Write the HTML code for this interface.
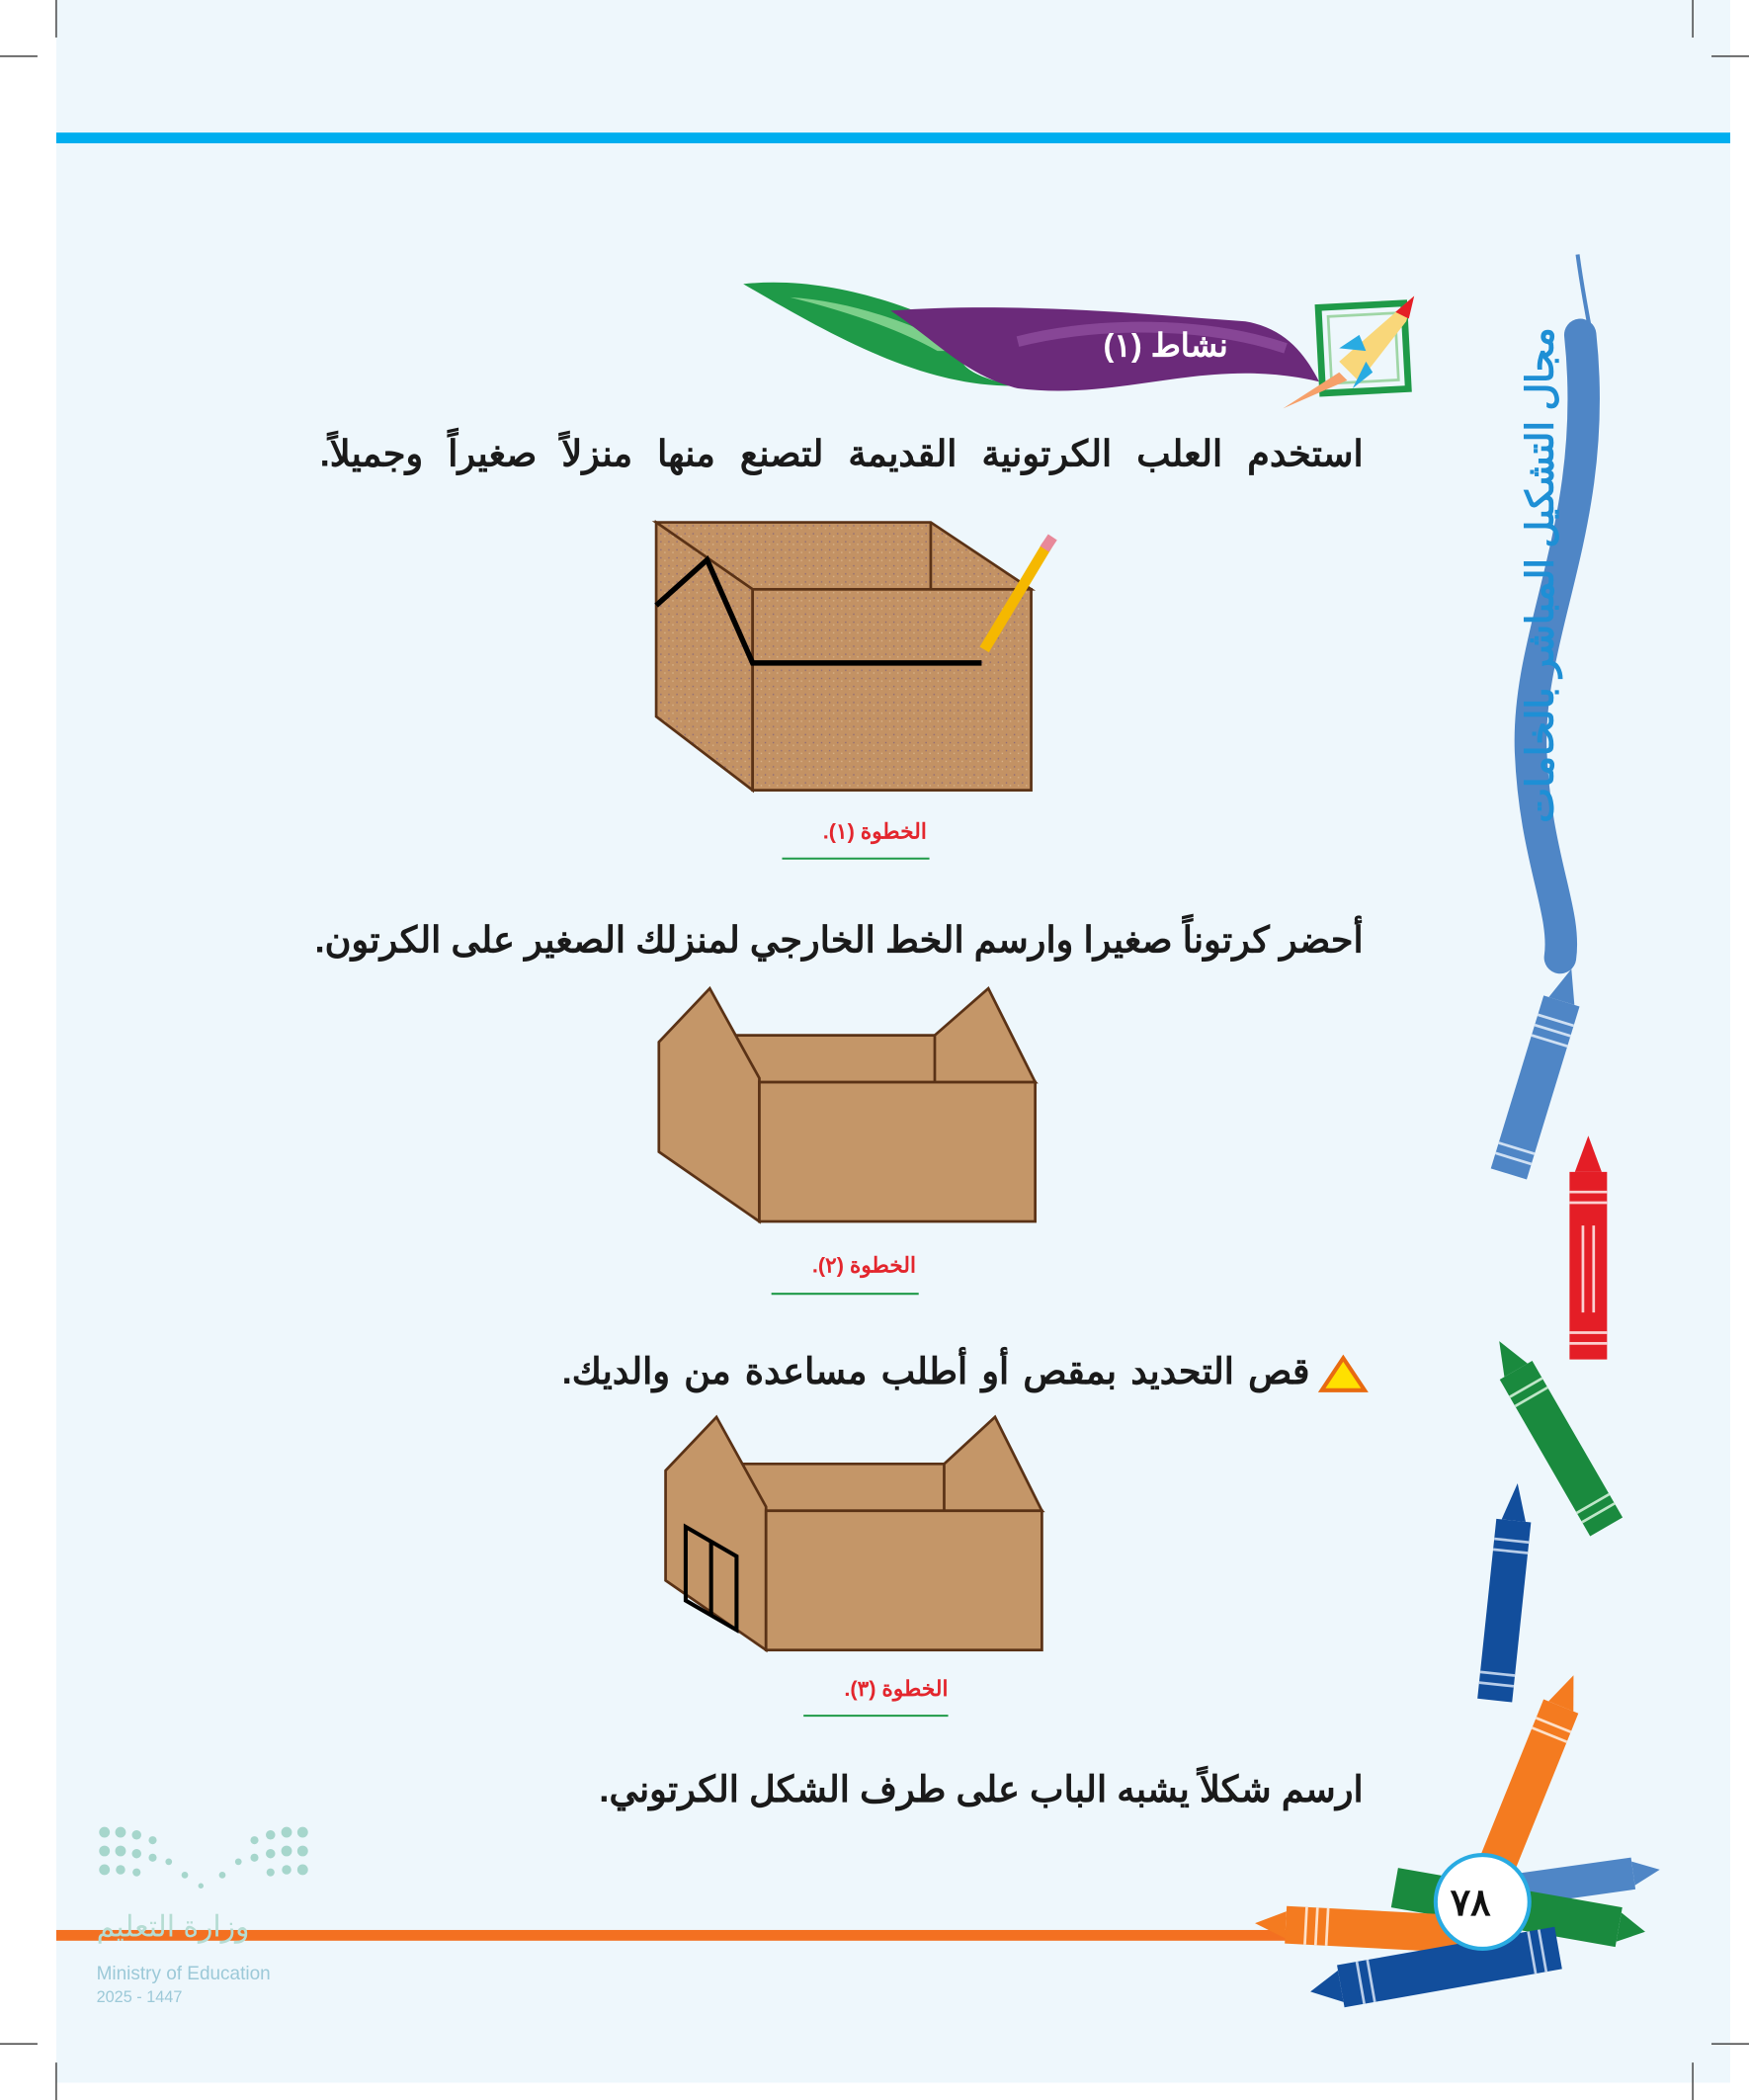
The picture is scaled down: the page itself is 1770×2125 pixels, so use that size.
<!DOCTYPE html>
<html><head><meta charset="utf-8"><style>
html,body{margin:0;padding:0;background:#fff;}
#wrap{position:relative;width:1306px;height:1568px;transform:scale(1.35528);transform-origin:0 0;overflow:hidden;}
svg{position:absolute;left:0;top:0;}
.t{position:absolute;direction:rtl;white-space:nowrap;font-family:"Liberation Sans","Noto Sans CJK SC",sans-serif;font-weight:bold;color:#1a1a1a;}
.cap{position:absolute;direction:rtl;white-space:nowrap;font-family:"Liberation Sans","Noto Sans CJK SC",sans-serif;font-weight:bold;color:#e3262d;font-size:16px;}
</style></head><body><div id="wrap">
<svg width="1306" height="1568" viewBox="0 0 1306 1568">
<rect x="42" y="0" width="1250" height="1555" fill="#eef7fc"/>
<g stroke="#333" stroke-width="1">
<line x1="42" y1="0" x2="42" y2="28"/><line x1="0" y1="42" x2="28" y2="42"/>
<line x1="1264" y1="0" x2="1264" y2="28"/><line x1="1278" y1="42" x2="1306" y2="42"/>
<line x1="42" y1="1540" x2="42" y2="1568"/><line x1="0" y1="1526" x2="28" y2="1526"/>
<line x1="1264" y1="1540" x2="1264" y2="1568"/><line x1="1278" y1="1526" x2="1306" y2="1526"/>
</g>
<rect x="42" y="99" width="1250" height="8" fill="#00aeef"/>
<rect x="42" y="1441" width="1000" height="8" fill="#f37021"/>
<path d="M555,212 C620,205 690,230 740,260 C700,262 720,282 760,288 C690,290 620,250 555,212Z" fill="#1f9a48"/>
<path d="M590,222 C640,225 690,245 720,262 L700,262 C670,245 630,232 590,222Z" fill="#7ccf8a"/>
<path d="M665,232 C760,225 860,235 930,240 C960,245 975,265 985,285 C900,265 840,300 760,290 C720,280 700,255 665,232Z" fill="#6b2a7a"/>
<path d="M760,255 C820,240 900,240 960,260" stroke="#9a5aa8" stroke-width="8" fill="none" opacity=".6"/>
<rect x="986" y="228" width="64" height="64" fill="none" stroke="#1f9a48" stroke-width="5" transform="rotate(-3 1018 260)"/>
<rect x="993" y="235" width="50" height="50" fill="none" stroke="#9fd6a6" stroke-width="2" transform="rotate(-3 1018 260)"/>
<path d="M1000,270 L1040,235 L1056,221 L1050,240 L1015,285Z" fill="#f9d77a"/>
<path d="M1042,233 L1056,221 L1052,238Z" fill="#e41e26"/>
<path d="M1000,260 L1015,250 L1020,262Z M1010,290 L1025,278 L1020,270Z" fill="#29abe2"/>
<path d="M958,305 L1000,278 L1006,284Z" fill="#f6a06a"/>
<path d="M1180,250 C1195,390 1140,470 1143,560 C1146,640 1170,680 1165,715" stroke="#4f86c6" stroke-width="24" fill="none" stroke-linecap="round"/>
<path d="M1178,190 C1182,220 1188,250 1192,270" stroke="#4f86c6" stroke-width="3" fill="none"/>
<defs><pattern id="sp" width="6" height="6" patternUnits="userSpaceOnUse"><rect width="6" height="6" fill="#c39264"/><rect x="1" y="2" width="1" height="1" fill="#8a6a7a"/><rect x="4" y="4" width="1" height="1" fill="#d9b58c"/></pattern></defs>
<g stroke="#5a3216" stroke-width="2" fill="url(#sp)">
<polygon points="490,390 695,390 770,440 562,440"/>
<polygon points="490,390 562,440 562,590 490,535"/>
<rect x="562" y="440" width="208" height="150"/>
<line x1="695" y1="390" x2="695" y2="440"/>
</g>
<polyline points="490,452 528,418 562,495 733,495" stroke="#000" stroke-width="4" fill="none"/>
<line x1="735" y1="485" x2="782" y2="407" stroke="#f5b800" stroke-width="8"/>
<line x1="780" y1="410" x2="786" y2="401" stroke="#e8899a" stroke-width="8"/>
<g stroke="#5a3216" stroke-width="2" fill="#c49668">
<polygon points="530,773 738,773 773,808 567,808"/>
<polygon points="492,778 530,738 567,805 567,912 492,860"/>
<polygon points="698,773 738,738 773,808 698,808"/>
<rect x="567" y="808" width="206" height="104"/>
</g>
<g stroke="#5a3216" stroke-width="2" fill="#c49668">
<polygon points="535,1093 743,1093 778,1128 572,1128"/>
<polygon points="497,1098 535,1058 572,1125 572,1232 497,1180"/>
<polygon points="705,1093 743,1058 778,1128 705,1128"/>
<rect x="572" y="1128" width="206" height="104"/>
</g>
<g stroke="#000" stroke-width="3" fill="none"><polygon points="512,1140 550,1162 550,1217 512,1195"/><line x1="531" y1="1151" x2="531" y2="1206"/></g>
<g stroke="#1f9a48" stroke-width="1.5"><line x1="584" y1="641" x2="694" y2="641"/><line x1="576" y1="966" x2="686" y2="966"/><line x1="600" y1="1281" x2="708" y2="1281"/></g>
<polygon points="1003,1014 1019,1038 987,1038" fill="#ffe000" stroke="#e86a10" stroke-width="3"/>
<g>
<g transform="translate(1150,800) rotate(17)"><rect x="-14" y="-55" width="28" height="135" fill="#4f86c6"/><polygon points="-10,-55 0,-80 10,-55" fill="#4f86c6"/><g stroke="#cfe0f3" stroke-width="2"><line x1="-14" y1="-40" x2="14" y2="-40"/><line x1="-14" y1="-32" x2="14" y2="-32"/><line x1="-14" y1="-24" x2="14" y2="-24"/><line x1="-14" y1="60" x2="14" y2="60"/><line x1="-14" y1="68" x2="14" y2="68"/></g></g>
<g transform="translate(1186,940)"><rect x="-14" y="-65" width="28" height="140" fill="#e41e26"/><polygon points="-10,-65 0,-92 10,-65" fill="#e41e26"/><g stroke="#fbd0d0" stroke-width="2"><line x1="-14" y1="-50" x2="14" y2="-50"/><line x1="-14" y1="-42" x2="14" y2="-42"/><line x1="-4" y1="-25" x2="-4" y2="40"/><line x1="4" y1="-25" x2="4" y2="40"/><line x1="-14" y1="55" x2="14" y2="55"/><line x1="-14" y1="63" x2="14" y2="63"/></g></g>
<g transform="translate(1162,1075) rotate(-30)"><rect x="-14" y="-60" width="28" height="135" fill="#1a8a3e"/><polygon points="-10,-60 0,-85 10,-60" fill="#1a8a3e"/><g stroke="#bfe6c8" stroke-width="2"><line x1="-14" y1="-45" x2="14" y2="-45"/><line x1="-14" y1="-37" x2="14" y2="-37"/><line x1="-14" y1="55" x2="14" y2="55"/><line x1="-14" y1="63" x2="14" y2="63"/></g></g>
<g transform="translate(1124,1195) rotate(6)"><rect x="-13" y="-60" width="26" height="135" fill="#124e9c"/><polygon points="-9,-60 0,-88 9,-60" fill="#124e9c"/><g stroke="#b8cde9" stroke-width="2"><line x1="-13" y1="-45" x2="13" y2="-45"/><line x1="-13" y1="-37" x2="13" y2="-37"/><line x1="-13" y1="55" x2="13" y2="55"/><line x1="-13" y1="63" x2="13" y2="63"/></g></g>
<g transform="translate(1145,1325) rotate(22)"><rect x="-14" y="-55" width="28" height="130" fill="#f47b20"/><polygon points="-10,-55 0,-80 10,-55" fill="#f47b20"/><g stroke="#fde0c8" stroke-width="2"><line x1="-14" y1="-40" x2="14" y2="-40"/><line x1="-14" y1="-32" x2="14" y2="-32"/></g></g>
<g transform="translate(1175,1405) rotate(-8)"><rect x="-50" y="-12" width="95" height="24" fill="#4f86c6"/><polygon points="45,-9 65,0 45,9" fill="#4f86c6"/></g>
<g transform="translate(1130,1425) rotate(10)"><rect x="-90" y="-15" width="170" height="30" fill="#1a8a3e"/><polygon points="80,-11 100,0 80,11" fill="#1a8a3e"/></g>
<g transform="translate(1015,1440) rotate(3)"><rect x="-55" y="-14" width="130" height="28" fill="#f47b20"/><polygon points="-55,-10 -78,0 -55,10" fill="#f47b20"/><g stroke="#fde0c8" stroke-width="2"><line x1="-40" y1="-14" x2="-40" y2="14"/><line x1="-32" y1="-14" x2="-32" y2="14"/><line x1="-24" y1="-14" x2="-24" y2="14"/></g></g>
<g transform="translate(1075,1470) rotate(-10)"><rect x="-75" y="-16" width="165" height="32" fill="#124e9c"/><polygon points="-75,-12 -98,0 -75,12" fill="#124e9c"/><g stroke="#b8cde9" stroke-width="2"><line x1="-60" y1="-16" x2="-60" y2="16"/><line x1="-52" y1="-16" x2="-52" y2="16"/><line x1="70" y1="-16" x2="70" y2="16"/><line x1="78" y1="-16" x2="78" y2="16"/></g></g>
</g>
<circle cx="1107" cy="1420" r="35" fill="#fff" stroke="#29abe2" stroke-width="3"/>
<g fill="#a6d6cc">
<circle cx="78" cy="1368" r="4"/><circle cx="90" cy="1368" r="4"/><circle cx="102" cy="1370" r="3.5"/><circle cx="114" cy="1374" r="3"/>
<circle cx="78" cy="1382" r="4"/><circle cx="90" cy="1382" r="4"/><circle cx="102" cy="1384" r="3.5"/><circle cx="114" cy="1387" r="3"/><circle cx="126" cy="1390" r="2.5"/>
<circle cx="78" cy="1396" r="4"/><circle cx="90" cy="1396" r="3.5"/><circle cx="102" cy="1398" r="3"/><circle cx="138" cy="1400" r="2.5"/><circle cx="150" cy="1408" r="2"/>
<circle cx="226" cy="1368" r="4"/><circle cx="214" cy="1368" r="4"/><circle cx="202" cy="1370" r="3.5"/><circle cx="190" cy="1374" r="3"/>
<circle cx="226" cy="1382" r="4"/><circle cx="214" cy="1382" r="4"/><circle cx="202" cy="1384" r="3.5"/><circle cx="190" cy="1387" r="3"/><circle cx="178" cy="1390" r="2.5"/>
<circle cx="226" cy="1396" r="4"/><circle cx="214" cy="1396" r="3.5"/><circle cx="202" cy="1398" r="3"/><circle cx="166" cy="1400" r="2.5"/>
</g>
</svg>
<div class="t" style="right:389px;top:244px;font-size:24px;color:#fff;">نشاط (١)</div>
<div class="t" style="right:288px;top:324px;font-size:27px;word-spacing:11px;">استخدم العلب الكرتونية القديمة لتصنع منها منزلاً صغيراً وجميلاً.</div>
<div class="cap" style="right:614px;top:611px;">الخطوة (١).</div>
<div class="t" style="right:288px;top:687px;font-size:27px;">أحضر كرتوناً صغيرا وارسم الخط الخارجي لمنزلك الصغير على الكرتون.</div>
<div class="cap" style="right:622px;top:935px;">الخطوة (٢).</div>
<div class="t" style="right:328px;top:1009px;font-size:27px;word-spacing:3px;">قص التحديد بمقص أو أطلب مساعدة من والديك.</div>
<div class="cap" style="right:598px;top:1251px;">الخطوة (٣).</div>
<div class="t" style="right:288px;top:1321px;font-size:27px;">ارسم شكلاً يشبه الباب على طرف الشكل الكرتوني.</div>
<div class="t" style="left:950px;top:413px;width:400px;text-align:center;font-size:28px;color:#1e8fd5;transform:rotate(-90deg);transform-origin:50% 50%;">مجال التشكيل المباشر بالخامات</div>
<div class="t" style="left:1083px;top:1404px;font-size:28px;color:#111;direction:ltr;">٧٨</div>
<div class="t" style="left:72px;top:1426px;font-size:22px;color:#b5dcd3;font-weight:normal;">وزارة التعليم</div>
<div style="position:absolute;left:72px;top:1465px;font:14px 'Liberation Sans',sans-serif;color:#9cc9d8;">Ministry of Education</div>
<div style="position:absolute;left:72px;top:1484px;font:12px 'Liberation Sans',sans-serif;color:#9cc9d8;">2025 - 1447</div>
</div></body></html>
